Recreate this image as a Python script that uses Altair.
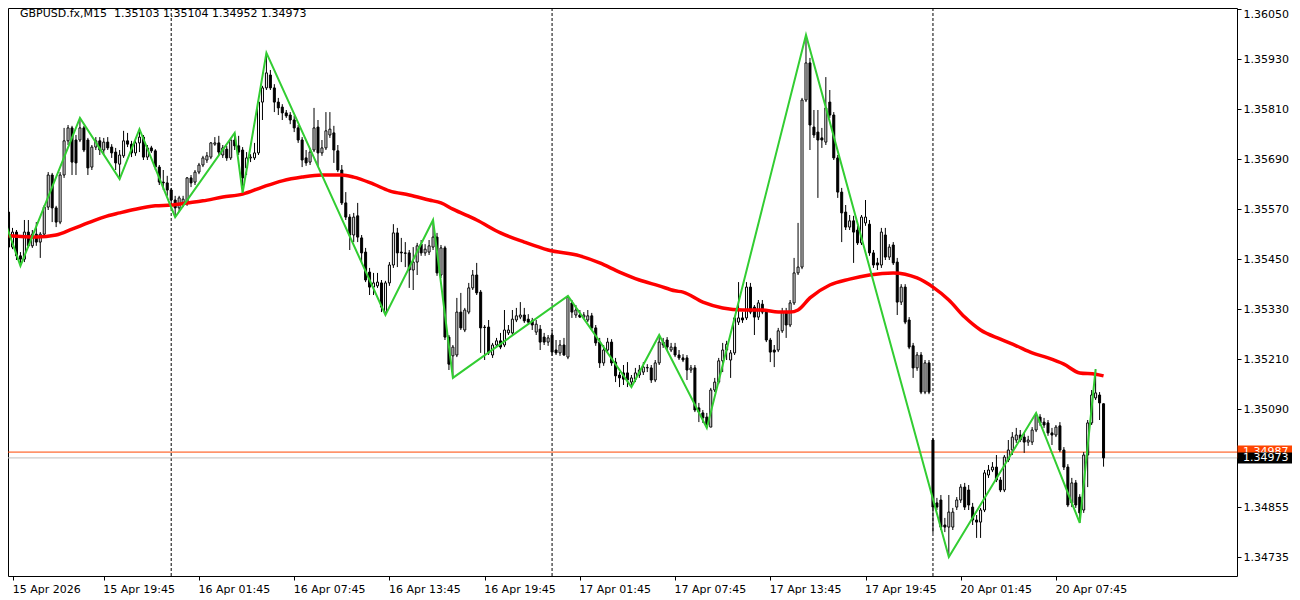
import altair as alt
import pandas as pd

title_text = "GBPUSD.fx,M15\u00a0\u00a01.35103 1.35104 1.34952 1.34973"

opens = [
1.35563,1.35479,1.35515,1.35458,1.35450,1.35515,1.35482,1.35510,1.35491,1.35510,
1.35575,1.35652,1.35573,1.35539,1.35652,1.35734,1.35765,1.35736,1.35736,1.35765,
1.35736,1.35671,1.35719,1.35734,1.35712,1.35731,1.35719,1.35707,1.35678,1.35698,
1.35734,1.35726,1.35705,1.35729,1.35743,1.35695,1.35717,1.35710,1.35671,1.35635,
1.35633,1.35616,1.35592,1.35573,1.35585,1.35585,1.35645,1.35635,1.35659,1.35676,
1.35688,1.35695,1.35726,1.35729,1.35700,1.35714,1.35693,1.35736,1.35722,1.35712,
1.35669,1.35693,1.35693,1.35705,1.35827,1.35861,1.35892,1.35861,1.35827,1.35815,
1.35801,1.35796,1.35784,1.35765,1.35736,1.35693,1.35683,1.35712,1.35767,1.35705,
1.35717,1.35748,1.35753,1.35710,1.35664,1.35585,1.35551,1.35508,1.35554,1.35501,
1.35467,1.35419,1.35383,1.35386,1.35393,1.35323,1.35393,1.35436,1.35513,1.35467,
1.35465,1.35465,1.35424,1.35443,1.35486,1.35465,1.35467,1.35479,1.35503,1.35412,
1.35477,1.35263,1.35218,1.35220,1.35323,1.35280,1.35323,1.35381,1.35412,1.35371,
1.35287,1.35287,1.35220,1.35244,1.35254,1.35244,1.35273,1.35273,1.35304,1.35311,
1.35316,1.35306,1.35302,1.35275,1.35282,1.35263,1.35251,1.35268,1.35232,1.35225,
1.35244,1.35215,1.35345,1.35316,1.35316,1.35311,1.35304,1.35314,1.35285,1.35251,
1.35201,1.35232,1.35251,1.35203,1.35172,1.35177,1.35177,1.35155,1.35162,1.35172,
1.35179,1.35189,1.35189,1.35160,1.35201,1.35251,1.35256,1.35232,1.35239,1.35220,
1.35213,1.35213,1.35184,1.35189,1.35093,1.35081,1.35071,1.35047,1.35136,1.35155,
1.35206,1.35232,1.35208,1.35225,1.35299,1.35309,1.35309,1.35383,1.35335,1.35311,
1.35342,1.35323,1.35256,1.35232,1.35232,1.35278,1.35323,1.35292,1.35345,1.35417,
1.35431,1.35832,1.35921,1.35767,1.35755,1.35741,1.35731,1.35827,1.35796,1.35693,
1.35611,1.35563,1.35527,1.35542,1.35520,1.35489,1.35537,1.35534,1.35465,1.35441,
1.35436,1.35508,1.35455,1.35484,1.35443,1.35347,1.35383,1.35304,1.35242,1.35189,
1.35220,1.35131,1.35201,1.35016,1.34865,1.34872,1.34812,1.34807,1.34807,1.34855,
1.34872,1.34903,1.34896,1.34855,1.34824,1.34819,1.34848,1.34932,1.34944,1.34951,
1.34920,1.34896,1.34968,1.34992,1.35016,1.35028,1.35023,1.35011,1.35011,1.35040,
1.35071,1.35059,1.35057,1.35033,1.35028,1.35050,1.34992,1.34951,1.34865,1.34913,
1.34879,1.34848,1.34980,1.35057,1.35117,1.35124,1.35103]

highs = [
1.35573,1.35525,1.35520,1.35467,1.35544,1.35544,1.35520,1.35539,1.35515,1.35580,
1.35659,1.35657,1.35578,1.35659,1.35765,1.35772,1.35770,1.35748,1.35789,1.35770,
1.35741,1.35724,1.35743,1.35743,1.35741,1.35743,1.35726,1.35717,1.35712,1.35758,
1.35753,1.35734,1.35736,1.35762,1.35748,1.35724,1.35722,1.35714,1.35676,1.35664,
1.35650,1.35621,1.35602,1.35602,1.35602,1.35647,1.35652,1.35664,1.35681,1.35698,
1.35707,1.35731,1.35743,1.35746,1.35724,1.35722,1.35741,1.35753,1.35746,1.35719,
1.35707,1.35702,1.35729,1.35832,1.35866,1.35945,1.35904,1.35870,1.35837,1.35822,
1.35808,1.35803,1.35794,1.35772,1.35743,1.35712,1.35717,1.35813,1.35784,1.35736,
1.35803,1.35803,1.35770,1.35724,1.35676,1.35611,1.35558,1.35561,1.35585,1.35508,
1.35477,1.35429,1.35417,1.35417,1.35400,1.35398,1.35443,1.35534,1.35525,1.35501,
1.35491,1.35472,1.35479,1.35489,1.35496,1.35486,1.35496,1.35544,1.35513,1.35484,
1.35482,1.35268,1.35244,1.35357,1.35369,1.35333,1.35393,1.35424,1.35441,1.35376,
1.35292,1.35304,1.35249,1.35261,1.35273,1.35328,1.35292,1.35328,1.35333,1.35347,
1.35333,1.35318,1.35309,1.35304,1.35292,1.35273,1.35268,1.35280,1.35256,1.35256,
1.35261,1.35362,1.35352,1.35340,1.35328,1.35323,1.35328,1.35321,1.35292,1.35261,
1.35244,1.35261,1.35258,1.35213,1.35179,1.35196,1.35203,1.35172,1.35189,1.35196,
1.35203,1.35198,1.35196,1.35208,1.35268,1.35261,1.35263,1.35249,1.35249,1.35232,
1.35222,1.35220,1.35196,1.35196,1.35105,1.35088,1.35081,1.35141,1.35165,1.35213,
1.35249,1.35254,1.35232,1.35314,1.35395,1.35323,1.35395,1.35393,1.35340,1.35352,
1.35352,1.35328,1.35261,1.35244,1.35285,1.35333,1.35333,1.35352,1.35453,1.35537,
1.35837,1.35988,1.35933,1.35808,1.35808,1.35765,1.35887,1.35856,1.35803,1.35700,
1.35621,1.35580,1.35556,1.35554,1.35530,1.35556,1.35592,1.35544,1.35472,1.35453,
1.35525,1.35525,1.35486,1.35491,1.35453,1.35390,1.35390,1.35311,1.35249,1.35227,
1.35227,1.35208,1.35208,1.35021,1.34877,1.34884,1.34829,1.34884,1.34853,1.34879,
1.34910,1.34913,1.34908,1.34865,1.34836,1.34853,1.34944,1.34956,1.34963,1.34980,
1.34927,1.34980,1.35016,1.35035,1.35045,1.35040,1.35033,1.35026,1.35047,1.35081,
1.35078,1.35069,1.35064,1.35045,1.35052,1.35059,1.34999,1.34958,1.34925,1.34920,
1.34886,1.34987,1.35064,1.35136,1.35186,1.35131,1.35104]

lows = [
1.35472,1.35474,1.35448,1.35434,1.35443,1.35477,1.35477,1.35482,1.35453,1.35506,
1.35568,1.35539,1.35527,1.35534,1.35645,1.35724,1.35652,1.35652,1.35731,1.35707,
1.35652,1.35664,1.35712,1.35700,1.35700,1.35712,1.35693,1.35664,1.35642,1.35693,
1.35719,1.35695,1.35698,1.35707,1.35688,1.35688,1.35705,1.35664,1.35628,1.35616,
1.35602,1.35580,1.35551,1.35563,1.35575,1.35578,1.35623,1.35628,1.35654,1.35671,
1.35681,1.35690,1.35722,1.35700,1.35693,1.35686,1.35688,1.35712,1.35700,1.35609,
1.35652,1.35683,1.35688,1.35700,1.35784,1.35856,1.35856,1.35803,1.35796,1.35784,
1.35789,1.35774,1.35755,1.35729,1.35671,1.35674,1.35676,1.35707,1.35671,1.35698,
1.35712,1.35741,1.35681,1.35659,1.35580,1.35544,1.35472,1.35491,1.35491,1.35441,
1.35395,1.35364,1.35364,1.35381,1.35323,1.35316,1.35386,1.35429,1.35431,1.35443,
1.35431,1.35381,1.35376,1.35412,1.35458,1.35458,1.35460,1.35472,1.35410,1.35405,
1.35256,1.35184,1.35165,1.35215,1.35280,1.35275,1.35318,1.35376,1.35364,1.35225,
1.35208,1.35220,1.35213,1.35239,1.35234,1.35239,1.35268,1.35268,1.35299,1.35306,
1.35297,1.35292,1.35280,1.35268,1.35232,1.35244,1.35242,1.35218,1.35220,1.35218,
1.35218,1.35210,1.35309,1.35309,1.35309,1.35306,1.35299,1.35280,1.35242,1.35189,
1.35194,1.35227,1.35194,1.35155,1.35143,1.35148,1.35143,1.35143,1.35155,1.35165,
1.35172,1.35179,1.35153,1.35155,1.35196,1.35237,1.35232,1.35227,1.35215,1.35208,
1.35203,1.35160,1.35177,1.35083,1.35059,1.35057,1.35045,1.35047,1.35131,1.35150,
1.35179,1.35208,1.35165,1.35220,1.35292,1.35297,1.35304,1.35318,1.35268,1.35304,
1.35318,1.35251,1.35203,1.35191,1.35227,1.35273,1.35261,1.35287,1.35340,1.35412,
1.35426,1.35827,1.35712,1.35741,1.35597,1.35717,1.35724,1.35789,1.35688,1.35597,
1.35491,1.35520,1.35520,1.35441,1.35484,1.35484,1.35530,1.35458,1.35429,1.35424,
1.35429,1.35448,1.35448,1.35436,1.35316,1.35340,1.35294,1.35234,1.35165,1.35182,
1.35126,1.35126,1.35126,1.34793,1.34848,1.34800,1.34795,1.34735,1.34800,1.34848,
1.34865,1.34848,1.34848,1.34812,1.34781,1.34781,1.34843,1.34925,1.34939,1.34915,
1.34891,1.34891,1.34963,1.34980,1.35009,1.35011,1.34985,1.35002,1.35004,1.35035,
1.35050,1.35045,1.35026,1.35004,1.35023,1.34987,1.34944,1.34855,1.34855,1.34853,
1.34817,1.34841,1.34903,1.35052,1.35112,1.35064,1.34952]

closes = [
1.35479,1.35515,1.35458,1.35450,1.35515,1.35482,1.35510,1.35491,1.35510,1.35575,
1.35652,1.35573,1.35539,1.35652,1.35734,1.35765,1.35683,1.35681,1.35765,1.35712,
1.35669,1.35719,1.35734,1.35712,1.35731,1.35717,1.35705,1.35681,1.35700,1.35734,
1.35726,1.35705,1.35729,1.35743,1.35695,1.35717,1.35710,1.35671,1.35635,1.35633,
1.35616,1.35592,1.35573,1.35597,1.35594,1.35645,1.35633,1.35659,1.35676,1.35693,
1.35698,1.35729,1.35729,1.35707,1.35717,1.35693,1.35736,1.35722,1.35707,1.35645,
1.35693,1.35695,1.35705,1.35827,1.35861,1.35897,1.35861,1.35827,1.35813,1.35801,
1.35794,1.35784,1.35765,1.35736,1.35688,1.35681,1.35707,1.35765,1.35705,1.35717,
1.35758,1.35762,1.35712,1.35664,1.35585,1.35551,1.35508,1.35551,1.35503,1.35465,
1.35400,1.35383,1.35393,1.35395,1.35335,1.35393,1.35436,1.35513,1.35465,1.35465,
1.35464,1.35424,1.35443,1.35482,1.35465,1.35474,1.35482,1.35503,1.35417,1.35477,
1.35263,1.35198,1.35239,1.35323,1.35285,1.35328,1.35381,1.35412,1.35369,1.35285,
1.35286,1.35225,1.35244,1.35254,1.35239,1.35280,1.35280,1.35306,1.35314,1.35316,
1.35302,1.35299,1.35292,1.35294,1.35251,1.35251,1.35261,1.35227,1.35225,1.35244,
1.35220,1.35359,1.35323,1.35328,1.35311,1.35316,1.35314,1.35285,1.35249,1.35201,
1.35232,1.35251,1.35201,1.35170,1.35165,1.35162,1.35160,1.35165,1.35177,1.35184,
1.35191,1.35190,1.35160,1.35201,1.35251,1.35244,1.35239,1.35239,1.35220,1.35213,
1.35208,1.35184,1.35189,1.35088,1.35083,1.35069,1.35052,1.35136,1.35155,1.35206,
1.35232,1.35246,1.35225,1.35309,1.35309,1.35304,1.35383,1.35323,1.35311,1.35345,
1.35323,1.35256,1.35227,1.35227,1.35278,1.35323,1.35292,1.35345,1.35417,1.35431,
1.35832,1.35921,1.35772,1.35748,1.35736,1.35736,1.35813,1.35796,1.35693,1.35611,
1.35561,1.35527,1.35542,1.35515,1.35489,1.35551,1.35551,1.35465,1.35436,1.35436,
1.35515,1.35455,1.35479,1.35441,1.35347,1.35383,1.35299,1.35239,1.35189,1.35220,
1.35131,1.35201,1.35131,1.34855,1.34855,1.34807,1.34807,1.34843,1.34843,1.34872,
1.34903,1.34855,1.34860,1.34824,1.34819,1.34848,1.34937,1.34944,1.34951,1.34920,
1.34896,1.34975,1.34992,1.35023,1.35028,1.35016,1.35011,1.35016,1.35040,1.35076,
1.35057,1.35052,1.35033,1.35028,1.35047,1.34992,1.34951,1.34860,1.34913,1.34860,
1.34841,1.34980,1.35057,1.35124,1.35129,1.35105,1.34973]

# moving average (red) read at selected bars
ma_bar = [0,7,12,16,20,24,28,32,37,41,45,49,54,59,64,69,74,79,84,87,
          92,96,101,106,109,112,118,124,130,136,144,149,154,159,164,168,170,175,180,185,
          190,194,197,199,202,207,212,217,223,229,233,237,241,245,250,254,258,262,266,270,
          274,276]
ma_val = [1.35506,1.35503,1.35508,1.35522,1.35537,1.35551,1.35561,1.35570,1.35578,1.35580,
          1.35585,1.35590,1.35599,1.35606,1.35623,1.35638,1.35647,1.35652,1.35652,1.35647,
          1.35630,1.35614,1.35604,1.35592,1.35585,1.35570,1.35544,1.35513,1.35491,1.35472,
          1.35458,1.35441,1.35419,1.35400,1.35386,1.35374,1.35371,1.35347,1.35333,1.35328,
          1.35328,1.35323,1.35323,1.35328,1.35357,1.35388,1.35402,1.35412,1.35417,1.35405,
          1.35383,1.35352,1.35311,1.35280,1.35258,1.35242,1.35225,1.35213,1.35198,1.35177,
          1.35174,1.35170]

# zigzag pivots (green)
zz_bar = [-2,3,18,28,33,42,57,59,65,95,107,112,141,157,164,176,201,237,259,270,274]
zz_val = [1.35570,1.35434,1.35789,1.35642,1.35762,1.35551,1.35753,1.35609,1.35945,1.35316,
          1.35544,1.35165,1.35362,1.35143,1.35268,1.35045,1.35988,1.34735,1.35081,1.34817,
          1.35186]

sep_bars = [41, 137, 233]
tick_bars = [1.2, 24, 48, 72, 96, 120, 144, 168, 192, 216, 240, 264]
tick_labels = ["15 Apr 2026", "15 Apr 19:45", "16 Apr 01:45", "16 Apr 07:45",
               "16 Apr 13:45", "16 Apr 19:45", "17 Apr 01:45", "17 Apr 07:45",
               "17 Apr 13:45", "17 Apr 19:45", "20 Apr 01:45", "20 Apr 07:45"]
price_ticks = [1.36050, 1.35930, 1.35810, 1.35690, 1.35570, 1.35450,
               1.35330, 1.35210, 1.35090, 1.34855, 1.34735]
ask_price = 1.34987
bid_price = 1.34973

FONT = "DejaVu Sans"
W, H = 1229, 568

n = len(closes)
df = pd.DataFrame({"i": list(range(n)), "o": opens, "h": highs, "l": lows, "c": closes})
df["fillc"] = ["white" if c >= o else "black" for o, c in zip(opens, closes)]

xs = alt.Scale(domain=[1.125, 308.375], nice=False, zero=False)
ys = alt.Scale(domain=[1.346896, 1.360528], nice=False, zero=False)

label_expr = " : ".join(
    f"abs(datum.value - {b}) < 0.5 ? '{t}'" for b, t in zip(tick_bars, tick_labels)
) + " : ''"

x_axis = alt.Axis(values=tick_bars, labelExpr=label_expr, orient="bottom", domain=False,
                  grid=False, ticks=True, tickSize=4, tickColor="black", labelColor="black",
                  labelFont=FONT, labelFontSize=11, labelAlign="left", labelBaseline="top",
                  labelPadding=3, labelFlush=False, labelOverlap=False, labelOffset=-1, title=None)
y_axis = alt.Axis(values=price_ticks, format=".5f", orient="right", domain=False, grid=False,
                  ticks=True, tickSize=4, tickColor="black", labelColor="black",
                  labelFont=FONT, labelFontSize=11, labelPadding=2, labelFlush=False,
                  labelOverlap=False, title=None,
                  labelOffset={"condition": {"test": "datum.value > 1.3604", "value": 5}, "value": 0})


def X(field):
    return alt.X(field, scale=xs, axis=x_axis)


def Y(field):
    return alt.Y(field, scale=ys, axis=y_axis)


base = alt.Chart(df)

seps = alt.Chart(pd.DataFrame({"s": sep_bars})).mark_rule(
    color="black", strokeWidth=1, strokeDash=[3, 2]
).encode(x=X("s:Q"))

bid_line = alt.Chart(pd.DataFrame({"p": [bid_price]})).mark_rule(
    color="#c0c0c0", strokeWidth=1
).encode(y=Y("p:Q"))
ask_line = alt.Chart(pd.DataFrame({"p": [ask_price]})).mark_rule(
    color="#ff4500", strokeWidth=1
).encode(y=Y("p:Q"))

wicks = base.mark_rule(color="black", strokeWidth=1, clip=True).encode(
    x=X("i:Q"), y=Y("l:Q"), y2="h:Q",
)
bodies = base.mark_bar(size=2, stroke="black", strokeWidth=1, clip=True).encode(
    x=X("i:Q"), y=Y("o:Q"), y2="c:Q",
    fill=alt.Color("fillc:N", scale=None),
)

ma = alt.Chart(pd.DataFrame({"b": ma_bar, "v": ma_val})).mark_line(
    color="#ff0000", strokeWidth=3.5, clip=True, interpolate="monotone"
).encode(x=X("b:Q"), y=Y("v:Q"))

zz = alt.Chart(pd.DataFrame({"b": zz_bar, "v": zz_val})).mark_line(
    color="#32cd32", strokeWidth=2, clip=True
).encode(x=X("b:Q"), y=Y("v:Q"))

lab_ask = pd.DataFrame({"p": [ask_price], "t": [f"{ask_price:.5f}"]})
lab_bid = pd.DataFrame({"p": [bid_price], "t": [f"{bid_price:.5f}"]})

ask_box = alt.Chart(lab_ask).mark_rule(color="#ff4500", strokeWidth=13, strokeCap="butt").encode(
    y=Y("p:Q"), x=alt.value(W + 0.5), x2=alt.value(W + 57))
ask_txt = alt.Chart(lab_ask).mark_text(align="left", baseline="middle", color="white",
                                        font=FONT, fontSize=11).encode(
    y=Y("p:Q"), x=alt.value(W + 6), text="t:N")
bid_box = alt.Chart(lab_bid).mark_rule(color="black", strokeWidth=11, strokeCap="butt").encode(
    y=Y("p:Q"), x=alt.value(W + 0.5), x2=alt.value(W + 57))
bid_txt = alt.Chart(lab_bid).mark_text(align="left", baseline="middle", color="white",
                                        font=FONT, fontSize=11).encode(
    y=Y("p:Q"), x=alt.value(W + 6), text="t:N")

title = alt.Chart(pd.DataFrame({"t": [title_text]})).mark_text(
    align="left", baseline="middle", color="black", font=FONT, fontSize=11
).encode(x=alt.value(12), y=alt.value(6), text="t:N")

chart = alt.layer(
    seps, bid_line, ask_line, wicks, bodies, ma, zz,
    ask_box, ask_txt, bid_box, bid_txt, title
).properties(
    width=W, height=H,
    padding={"left": 0, "top": 0, "right": 55, "bottom": 22},
    autosize=alt.AutoSizeParams(type="none"),
    background="white",
).configure_view(stroke="black", strokeWidth=1)

chart.save("out.html", embed_options={"renderer": "svg", "actions": False})
